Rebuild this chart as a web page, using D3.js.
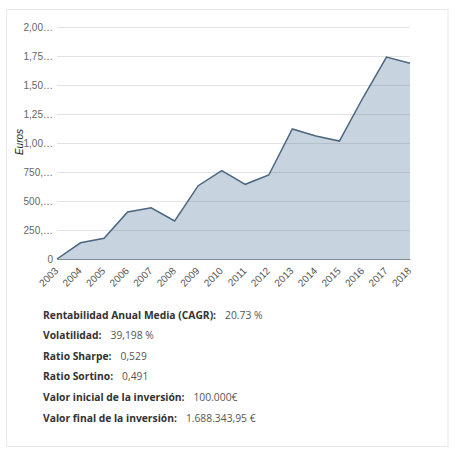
<!DOCTYPE html>
<meta charset="utf-8">
<style>
    body { margin: 0; background: #fff; }
    .grid line { stroke: #e3e3e3; }
    .grid path { display: none; }
    .axis--y text { fill: #666; font: 10px "Liberation Sans", Arial, sans-serif; }
    .axis--x text { fill: #555; font: 10px "Liberation Sans", Arial, sans-serif; }
    .axis--x path { stroke: #7f8a93; }
    .stat { font: 10.3px "Open Sans", sans-serif; }
    .stat .lbl { font-weight: bold; fill: #333; }
    .stat .val { fill: #555; }
</style>
<svg width="456" height="452"></svg>
<script src="https://cdn.jsdelivr.net/npm/d3@7"></script>
<script>

    var years = ["2003", "2004", "2005", "2006", "2007", "2008", "2009", "2010",
                 "2011", "2012", "2013", "2014", "2015", "2016", "2017", "2018"];
    var values = [0, 140, 178, 405, 442, 328, 632, 761,
                  644, 724, 1121, 1060, 1017, 1390, 1741, 1688];
    var yTicks = [0, 250, 500, 750, 1000, 1250, 1500, 1750, 2000];
    var yTickLabels = ["0", "250,…", "500,…", "750,…", "1,00…", "1,25…", "1,50…", "1,75…", "2,00…"];
    var statLabels = ["Rentabilidad Anual Media (CAGR):", "Volatilidad:", "Ratio Sharpe:",
                      "Ratio Sortino:", "Valor inicial de la inversión:", "Valor final de la inversión:"];
    var statValues = ["20.73 %", "39,198 %", "0,529", "0,491", "100.000€", "1.688.343,95 €"];

    var svg = d3.select("svg");

    // card border
    svg.append("rect")
        .attr("x", 6.5).attr("y", 9.5)
        .attr("width", 441.5).attr("height", 437)
        .attr("fill", "none")
        .attr("stroke", "#e8e8e8");

    var margin = {top: 27, left: 57},
        width = 353,
        height = 232;

    var g = svg.append("g")
        .attr("transform", "translate(" + margin.left + "," + margin.top + ")");

    var x = d3.scalePoint().domain(years).range([0, width]),
        y = d3.scaleLinear().domain([0, 2000]).range([height, 0]);

    g.append("g")
        .attr("class", "grid axis--y")
        .call(d3.axisLeft(y)
            .tickValues(yTicks)
            .tickFormat(function(d, i) { return yTickLabels[i]; })
            .tickSize(-width)
            .tickPadding(4));

    var area = d3.area()
        .x(function(d, i) { return x(years[i]); })
        .y0(height)
        .y1(function(d) { return y(d); });

    var line = d3.line()
        .x(function(d, i) { return x(years[i]); })
        .y(function(d) { return y(d); });

    g.append("path")
        .datum(values)
        .attr("d", area)
        .attr("fill", "rgb(70,110,150)")
        .attr("fill-opacity", 0.3);

    g.append("path")
        .datum(values)
        .attr("d", line)
        .attr("fill", "none")
        .attr("stroke", "#4b6680")
        .attr("stroke-width", 1.5);

    var xAxis = g.append("g")
        .attr("class", "axis axis--x")
        .attr("transform", "translate(0," + height + ")")
        .call(d3.axisBottom(x).tickSize(0).tickSizeOuter(0));

    // rotated year labels, ending just under each point
    xAxis.selectAll("text")
        .attr("text-anchor", "end")
        .attr("x", 0)
        .attr("y", 0)
        .attr("dy", "0.35em")
        .attr("transform", "translate(-1,10) rotate(-45)");

    svg.append("text")
        .attr("transform", "translate(23,142) rotate(-90)")
        .attr("text-anchor", "middle")
        .style("font", "italic 10px 'Liberation Sans', Arial, sans-serif")
        .style("fill", "#222")
        .text("Euros");

    var stats = svg.append("g").attr("class", "stat");
    statLabels.forEach(function(lbl, i) {
        var t = stats.append("text")
            .attr("x", 43)
            .attr("y", 318.5 + i * 20.6);
        t.append("tspan").attr("class", "lbl").text(lbl);
        t.append("tspan").attr("class", "val").attr("dx", 9).text(statValues[i]);
    });
</script>
